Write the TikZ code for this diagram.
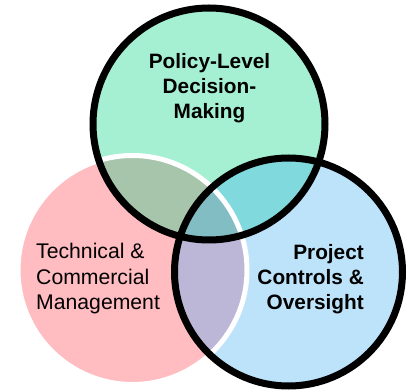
\documentclass[tikz,border=0pt]{standalone}
\usepackage{fontspec}
\setmainfont{Liberation Sans}
\definecolor{cgreen}{HTML}{A5F0D2}
\definecolor{cpink}{HTML}{FFBCC1}
\definecolor{cblue}{HTML}{BDE3FA}
\definecolor{cPG}{HTML}{A6C5AA}
\definecolor{cGB}{HTML}{80D9DC}
\definecolor{cPB}{HTML}{BCB7D6}
\definecolor{cPGB}{HTML}{81BDC3}
\tikzset{
  lbl/.style={inner sep=0pt, font=\fontsize{21.2}{25.5}\selectfont},
  blbl/.style={inner sep=0pt, font=\fontsize{20.8}{25}\selectfont\bfseries},
  blackring/.style={draw=black, line width=7pt},
  whitering/.style={draw=white, line width=5pt}
}
\begin{document}
\begin{tikzpicture}[x=1pt,y=-1pt]
\useasboundingbox (0,0) rectangle (410,390);
\coordinate (P) at (132.5,270);
\coordinate (G) at (209,124);
\coordinate (B) at (288.5,272);
\def\rP{114.5pt}
\def\rG{116pt}
\def\rB{114pt}
% base fills
\fill[cpink] (P) circle[radius=\rP];
\fill[cgreen] (G) circle[radius=\rG];
\fill[cblue] (B) circle[radius=\rB];
% green-blue overlap
\begin{scope}
  \clip (G) circle[radius=\rG];
  \fill[cGB] (B) circle[radius=\rB];
\end{scope}
% overlaps with pink
\begin{scope}
  \clip (P) circle[radius=\rP];
  \fill[cPG] (G) circle[radius=\rG];
  \fill[cPB] (B) circle[radius=\rB];
  \clip (G) circle[radius=\rG];
  \fill[cPGB] (B) circle[radius=\rB];
\end{scope}
% outlines
\path[whitering] (P) circle[radius=\rP];
\path[blackring] (G) circle[radius=\rG];
\path[blackring] (B) circle[radius=\rB];
% labels
\node[blbl, align=center] (tG) at (209.5,88) {Policy-Level\\Decision-\\Making};
\node[lbl, anchor=west, align=left] (tP) at (36,279) {Technical \&\\Commercial\\Management};
\node[blbl, anchor=east, align=right] (tB) at (364,279) {Project\\Controls \&\\Oversight};
\end{tikzpicture}
\end{document}
